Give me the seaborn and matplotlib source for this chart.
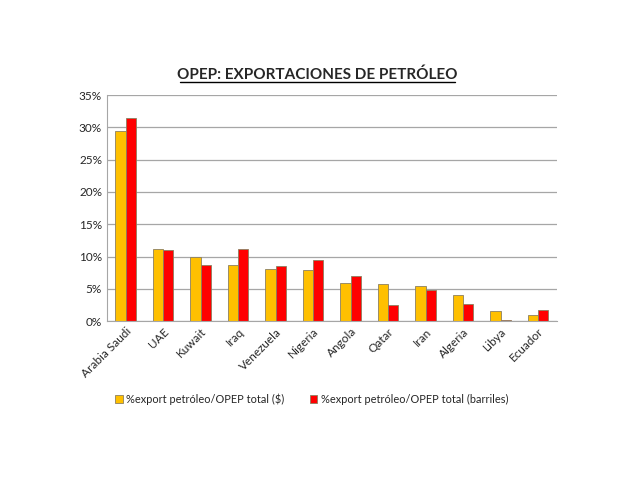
import numpy as np
import matplotlib
matplotlib.use("Agg")
import matplotlib.pyplot as plt
import pandas as pd
import seaborn as sns
from matplotlib.ticker import PercentFormatter

# data
paises = ["Arabia Saudi", "UAE", "Kuwait", "Iraq", "Venezuela", "Nigeria",
          "Angola", "Qatar", "Iran", "Algeria", "Libya", "Ecuador"]
pct_dolares = [29.5, 11.1, 10.0, 8.7, 8.0, 7.9, 5.9, 5.8, 5.5, 4.1, 1.5, 1.0]
pct_barriles = [31.5, 11.0, 8.7, 11.1, 8.6, 9.4, 7.0, 2.5, 4.8, 2.7, 0.15, 1.7]

serie_d = "%export petróleo/OPEP total ($)"
serie_b = "%export petróleo/OPEP total (barriles)"

df = pd.DataFrame({"pais": paises, serie_d: pct_dolares, serie_b: pct_barriles})
df = df.melt(id_vars="pais", var_name="serie", value_name="pct")

sns.set_style("white")
plt.rcParams['font.family'] = ['Lato', 'DejaVu Sans']

fig = plt.figure(figsize=(6.4, 4.8), dpi=100)
ax = fig.add_axes([0.167, 0.331, 0.703, 0.471])

sns.barplot(data=df, x="pais", y="pct", hue="serie", order=paises,
            palette={serie_d: "#FFC000", serie_b: "#FF0000"}, saturation=1,
            width=0.55, edgecolor="#8c8060", linewidth=0.6, ax=ax)

ax.set_ylim(0, 35)
ax.set_yticks(np.arange(0, 36, 5))
ax.yaxis.set_major_formatter(PercentFormatter(decimals=0))
ax.yaxis.grid(True, color="#a6a6a6", linewidth=0.9)
ax.set_axisbelow(True)
ax.set_xlim(-0.5, len(paises) - 0.5)
ax.set_xlabel("")
ax.set_ylabel("")
for side in ["top", "right"]:
    ax.spines[side].set_visible(False)
for side in ["left", "bottom"]:
    ax.spines[side].set_color("#a6a6a6")
ax.tick_params(axis="both", labelsize=8.5, length=0)
plt.setp(ax.get_xticklabels(), rotation=45, ha="right", rotation_mode="anchor")

# title, underlined
fig.text(0.496, 0.835, "OPEP: EXPORTACIONES DE PETRÓLEO", ha="center", va="baseline",
         fontsize=11, fontweight="bold")
ln = matplotlib.lines.Line2D([0.281, 0.711], [0.830, 0.830], color="black",
                             linewidth=1, transform=fig.transFigure)
fig.add_artist(ln)

ax.legend(loc="upper center", bbox_to_anchor=(0.455, -0.275), ncol=2, frameon=False,
          fontsize=7.9, handlelength=0.7, handleheight=0.7, columnspacing=2.3,
          handletextpad=0.3)

fig.savefig("out.png", dpi=100)
